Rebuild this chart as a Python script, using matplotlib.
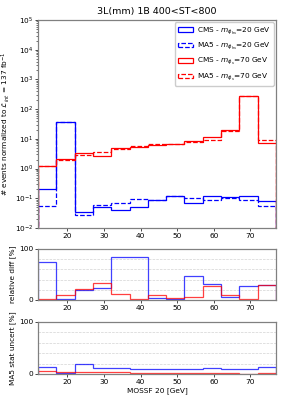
import matplotlib
matplotlib.use('Agg')
import matplotlib.pyplot as plt
import numpy as np

edges = np.arange(12, 78, 5)
centers = 0.5 * (edges[:-1] + edges[1:])

cms_20 = [0.21, 37, 0.035, 0.05, 0.039, 0.051, 0.09, 0.12, 0.072, 0.12, 0.107, 0.12, 0.078]
ma5_20 = [0.056, 36, 0.028, 0.061, 0.072, 0.095, 0.088, 0.12, 0.106, 0.087, 0.10, 0.09, 0.054]
cms_70 = [1.25, 2.1, 3.4, 2.6, 5.0, 5.5, 6.2, 6.8, 8.6, 12.0, 20, 275, 7.0]
ma5_70 = [1.25, 1.9, 2.8, 3.5, 4.5, 5.6, 6.6, 6.6, 8.1, 9.0, 18.5, 272, 9.0]

reldiff_20 = [74, 1, 20, 23, 85, 84, 4, 1, 47, 31, 5, 27, 29]
reldiff_70 = [1, 10, 21, 33, 12, 2, 9, 4, 6, 27, 10, 1, 30]

stat_20 = [14, 2, 19, 12, 12, 10, 10, 9, 10, 11, 10, 10, 14]
stat_70 = [6, 4.5, 4, 3.5, 3, 2.5, 2.5, 2.5, 2.5, 2.5, 2, 0.5, 2]

fig = plt.figure(figsize=(2.89, 4.17), dpi=100)
left, width = 38 / 289, 238 / 289
ax1 = fig.add_axes([left, 1 - 228 / 417, width, 208 / 417])
ax2 = fig.add_axes([left, 1 - 300 / 417, width, 51 / 417])
ax3 = fig.add_axes([left, 1 - 374 / 417, width, 52 / 417])

fs = 5.3

ax1.hist(centers, bins=edges, weights=cms_20, histtype='step', color='blue', lw=0.9,
         label=r'CMS - $m_{\phi_{hs}}$=20 GeV')
ax1.hist(centers, bins=edges, weights=ma5_20, histtype='step', color='blue', lw=0.9, ls='--',
         label=r'MA5 - $m_{\phi_{hs}}$=20 GeV')
ax1.hist(centers, bins=edges, weights=cms_70, histtype='step', color='red', lw=0.9,
         label=r'CMS - $m_{\phi_s}$=70 GeV')
ax1.hist(centers, bins=edges, weights=ma5_70, histtype='step', color='red', lw=0.9, ls='--',
         label=r'MA5 - $m_{\phi_s}$=70 GeV')
ax1.set_yscale('log')
ax1.set_ylim(1e-2, 1e5)
ax1.set_xlim(12, 77)
ax1.set_title('3L(mm) 1B 400<ST<800', fontsize=6.8, pad=4)
ax1.set_ylabel(r'# events normalized to $\mathcal{L}_{int}$ = 137 fb$^{-1}$', fontsize=fs, labelpad=2)
ax1.legend(loc='upper right', fontsize=5.3, handlelength=2.0, handleheight=0.6,
           borderpad=0.4, labelspacing=0.55, handletextpad=0.6, framealpha=1,
           borderaxespad=0.3)

for ax, blue, red, lab in [(ax2, reldiff_20, reldiff_70, 'relative diff [%]'),
                           (ax3, stat_20, stat_70, 'MA5 stat uncert [%]')]:
    ax.hist(centers, bins=edges, weights=blue, histtype='step', color='blue', lw=0.9, alpha=0.75)
    ax.hist(centers, bins=edges, weights=red, histtype='step', color='red', lw=0.9, alpha=0.75)
    ax.set_xlim(12, 77)
    ax.set_ylim(0, 100)
    ax.set_yticks([0, 100])
    for g in [20, 40, 60, 80]:
        ax.axhline(g, color='lightgray', ls='--', lw=0.5, zorder=0)
    ax.set_ylabel(lab, fontsize=fs, labelpad=2)

ax3.set_xlabel('MOSSF 20 [GeV]', fontsize=fs, labelpad=2)

for ax in (ax1, ax2, ax3):
    ax.set_xticks([20, 30, 40, 50, 60, 70])
    ax.tick_params(labelsize=fs, length=2, width=0.5, pad=1.5)
    ax.tick_params(which='minor', length=1.2, width=0.4)
    for s in ax.spines.values():
        s.set_color('gray')
        s.set_linewidth(0.9)

fig.savefig('out.png', dpi=100)
